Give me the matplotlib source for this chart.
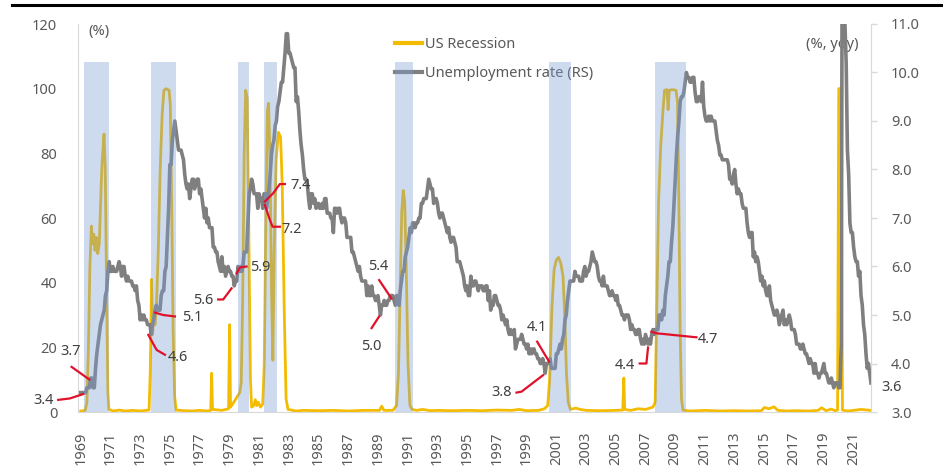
import numpy as np
import matplotlib
matplotlib.use("Agg")
import matplotlib.pyplot as plt
from matplotlib.lines import Line2D

plt.rcParams['font.family'] = ['Noto Sans', 'DejaVu Sans']

# ---------------- data ----------------
# US unemployment rate (%), monthly from Jan 1969
unrate_1969_1979 = [
    3.4, 3.4, 3.4, 3.4, 3.4, 3.5, 3.5, 3.5, 3.7, 3.7, 3.5, 3.5,
    3.9, 4.2, 4.4, 4.6, 4.8, 4.9, 5.0, 5.1, 5.4, 5.5, 5.9, 6.1,
    5.9, 5.9, 6.0, 5.9, 5.9, 5.9, 6.0, 6.1, 6.0, 5.8, 6.0, 6.0,
    5.8, 5.7, 5.8, 5.7, 5.7, 5.7, 5.6, 5.6, 5.5, 5.6, 5.3, 5.2,
    4.9, 5.0, 4.9, 5.0, 4.9, 4.9, 4.8, 4.8, 4.8, 4.6, 4.8, 4.9,
    5.1, 5.2, 5.1, 5.1, 5.1, 5.4, 5.5, 5.5, 5.9, 6.0, 6.6, 7.2,
    8.1, 8.1, 8.6, 8.8, 9.0, 8.8, 8.6, 8.4, 8.4, 8.4, 8.3, 8.2,
    7.9, 7.7, 7.6, 7.7, 7.4, 7.6, 7.8, 7.8, 7.6, 7.7, 7.8, 7.8,
    7.5, 7.6, 7.4, 7.2, 7.0, 7.2, 6.9, 7.0, 6.8, 6.8, 6.8, 6.4,
    6.4, 6.3, 6.3, 6.1, 6.0, 5.9, 6.2, 5.9, 6.0, 5.8, 5.9, 6.0,
    5.9, 5.9, 5.8, 5.8, 5.6, 5.7, 5.7, 6.0, 5.9, 6.0, 5.9, 6.0,
]
unrate_1980_1989 = [
    6.3, 6.3, 6.3, 6.9, 7.5, 7.6, 7.8, 7.7, 7.5, 7.5, 7.5, 7.2,
    7.5, 7.4, 7.4, 7.2, 7.5, 7.5, 7.2, 7.4, 7.6, 7.9, 8.3, 8.5,
    8.6, 8.9, 9.0, 9.3, 9.4, 9.6, 9.8, 9.8, 10.1, 10.4, 10.8, 10.8,
    10.4, 10.4, 10.3, 10.2, 10.1, 10.1, 9.4, 9.5, 9.2, 8.8, 8.5, 8.3,
    8.0, 7.8, 7.8, 7.7, 7.4, 7.2, 7.5, 7.5, 7.3, 7.4, 7.2, 7.3,
    7.3, 7.2, 7.2, 7.3, 7.2, 7.4, 7.4, 7.1, 7.1, 7.1, 7.0, 7.0,
    6.7, 7.2, 7.2, 7.1, 7.2, 7.2, 7.0, 6.9, 7.0, 7.0, 6.9, 6.6,
    6.6, 6.6, 6.6, 6.3, 6.3, 6.2, 6.1, 6.0, 5.9, 6.0, 5.8, 5.7,
    5.7, 5.7, 5.7, 5.4, 5.6, 5.4, 5.4, 5.6, 5.4, 5.4, 5.3, 5.3,
    5.4, 5.2, 5.0, 5.2, 5.2, 5.3, 5.2, 5.2, 5.3, 5.3, 5.4, 5.4,
]
unrate_1990_1999 = [
    5.4, 5.3, 5.2, 5.4, 5.4, 5.2, 5.5, 5.7, 5.9, 5.9, 6.2, 6.3,
    6.4, 6.6, 6.8, 6.7, 6.9, 6.9, 6.8, 6.9, 6.9, 7.0, 7.0, 7.3,
    7.3, 7.4, 7.4, 7.4, 7.6, 7.8, 7.7, 7.6, 7.6, 7.3, 7.4, 7.4,
    7.3, 7.1, 7.0, 7.1, 7.1, 7.0, 6.9, 6.8, 6.7, 6.8, 6.6, 6.5,
    6.6, 6.6, 6.5, 6.4, 6.1, 6.1, 6.1, 6.0, 5.9, 5.8, 5.6, 5.5,
    5.6, 5.4, 5.4, 5.8, 5.6, 5.6, 5.7, 5.7, 5.6, 5.5, 5.6, 5.6,
    5.6, 5.5, 5.5, 5.6, 5.6, 5.3, 5.5, 5.1, 5.2, 5.2, 5.4, 5.4,
    5.3, 5.2, 5.2, 5.1, 4.9, 5.0, 4.9, 4.8, 4.9, 4.7, 4.6, 4.7,
    4.6, 4.6, 4.7, 4.3, 4.4, 4.5, 4.5, 4.5, 4.6, 4.5, 4.4, 4.4,
    4.3, 4.4, 4.2, 4.3, 4.2, 4.3, 4.3, 4.2, 4.2, 4.1, 4.1, 4.0,
]
unrate_2000_2009 = [
    4.0, 4.1, 4.0, 3.8, 4.0, 4.0, 4.0, 4.1, 3.9, 3.9, 3.9, 3.9,
    4.2, 4.2, 4.3, 4.4, 4.3, 4.5, 4.6, 4.9, 5.0, 5.3, 5.5, 5.7,
    5.7, 5.7, 5.7, 5.9, 5.8, 5.8, 5.8, 5.7, 5.7, 5.7, 5.9, 6.0,
    5.8, 5.9, 5.9, 6.0, 6.1, 6.3, 6.2, 6.1, 6.1, 6.0, 5.8, 5.7,
    5.7, 5.6, 5.8, 5.6, 5.6, 5.6, 5.5, 5.4, 5.4, 5.5, 5.4, 5.4,
    5.3, 5.4, 5.2, 5.2, 5.1, 5.0, 5.0, 4.9, 5.0, 5.0, 5.0, 4.9,
    4.7, 4.8, 4.7, 4.7, 4.6, 4.6, 4.7, 4.7, 4.5, 4.4, 4.5, 4.4,
    4.6, 4.5, 4.4, 4.5, 4.4, 4.6, 4.7, 4.6, 4.7, 4.7, 4.7, 5.0,
    5.0, 4.9, 5.1, 5.0, 5.4, 5.6, 5.8, 6.1, 6.1, 6.5, 6.8, 7.3,
    7.8, 8.3, 8.7, 9.0, 9.4, 9.5, 9.5, 9.6, 9.8, 10.0, 9.9, 9.9,
]
unrate_2010_2022 = [
    9.8, 9.8, 9.9, 9.9, 9.6, 9.4, 9.4, 9.5, 9.5, 9.4, 9.8, 9.3,
    9.1, 9.0, 9.0, 9.1, 9.0, 9.1, 9.0, 9.0, 9.0, 8.8, 8.6, 8.5,
    8.3, 8.3, 8.2, 8.2, 8.2, 8.2, 8.2, 8.1, 7.8, 7.8, 7.7, 7.9,
    8.0, 7.7, 7.5, 7.6, 7.5, 7.5, 7.3, 7.2, 7.2, 7.2, 6.9, 6.7,
    6.6, 6.7, 6.7, 6.2, 6.3, 6.1, 6.2, 6.1, 5.9, 5.7, 5.8, 5.6,
    5.7, 5.5, 5.4, 5.4, 5.6, 5.3, 5.2, 5.1, 5.0, 5.0, 5.1, 5.0,
    4.8, 4.9, 5.0, 5.1, 4.8, 4.9, 4.8, 4.9, 5.0, 4.9, 4.7, 4.7,
    4.7, 4.6, 4.4, 4.4, 4.4, 4.3, 4.3, 4.4, 4.3, 4.2, 4.2, 4.1,
    4.0, 4.1, 4.0, 4.0, 3.8, 4.0, 3.8, 3.8, 3.7, 3.8, 3.8, 3.9,
    4.0, 3.8, 3.8, 3.7, 3.6, 3.6, 3.7, 3.6, 3.5, 3.6, 3.6, 3.6,
    3.5, 3.5, 4.4, 14.7, 13.2, 11.0, 10.2, 8.4, 7.9, 6.9, 6.7, 6.7,
    6.4, 6.2, 6.1, 6.1, 5.8, 5.9, 5.4, 5.2, 4.8, 4.6, 4.2, 3.9,
    4.0, 3.8, 3.6,
]
unrate_start_year = 1969

# US recession probability (%)
rec_year = [
    1969.0, 1969.3, 1969.42, 1969.52, 1969.62, 1969.72, 1969.8, 1969.88, 1969.96,
    1970.05, 1970.15, 1970.25, 1970.38, 1970.45, 1970.57, 1970.65, 1970.75, 1970.83, 1970.9,
    1971.2, 1971.6, 1972.0, 1972.5, 1973.0,
    1973.6, 1973.68, 1973.77, 1973.84, 1973.92, 1974.0, 1974.1, 1974.22, 1974.35, 1974.48,
    1974.6, 1974.75, 1974.95, 1975.03, 1975.12, 1975.22, 1975.32, 1975.42,
    1976.0, 1976.5, 1977.0, 1977.5, 1977.75, 1977.81, 1977.87, 1978.5, 1978.95, 1979.02, 1979.08,
    1979.3, 1979.5, 1979.7, 1979.8, 1979.9, 1980.0, 1980.1, 1980.2, 1980.3, 1980.42, 1980.5,
    1980.65, 1980.75, 1980.85, 1980.95, 1981.1, 1981.25, 1981.35, 1981.46, 1981.56, 1981.64,
    1981.73, 1981.85, 1981.93, 1982.02, 1982.15, 1982.3, 1982.45, 1982.56, 1982.7, 1982.82, 1982.95,
    1983.5, 1984.0, 1985.0, 1986.0, 1987.0, 1988.0, 1989.1, 1989.25, 1989.4, 1990.0,
    1990.25, 1990.38, 1990.5, 1990.6, 1990.7, 1990.8, 1990.9, 1991.02, 1991.15, 1991.3,
    1991.6, 1992.0, 1992.5, 1993.0, 1994.0, 1995.0, 1996.0, 1997.0, 1998.0, 1998.5, 1999.0,
    1999.8, 2000.2, 2000.42, 2000.55, 2000.7, 2000.85, 2001.0, 2001.15, 2001.3, 2001.45,
    2001.58, 2001.68, 2001.8, 2001.95, 2002.3, 2002.6, 2003.0, 2004.0, 2005.0,
    2005.47, 2005.54, 2005.6, 2006.0, 2006.5, 2007.0, 2007.5, 2007.65, 2007.75, 2007.88,
    2008.02, 2008.17, 2008.28, 2008.45, 2008.52, 2008.6, 2008.8, 2009.05, 2009.15, 2009.23,
    2009.33, 2009.42, 2009.52, 2010.0, 2011.0, 2012.0, 2013.0, 2014.0, 2014.8, 2015.0,
    2015.3, 2015.65, 2015.9, 2016.5, 2017.0, 2018.0, 2018.6, 2018.85, 2019.15, 2019.5,
    2019.75, 2019.92, 2020.0, 2020.17, 2020.25, 2020.6, 2021.0, 2021.5, 2022.17,
]
rec_prob = [
    0.3, 0.5, 3, 20, 45, 57.5, 52, 55, 50,
    54, 49, 52, 70, 78, 86, 76, 35, 6, 0.8,
    0.3, 0.6, 0.3, 0.5, 0.3,
    0.6, 12, 41, 24, 30, 27, 33, 50, 75, 92,
    99.5, 100, 99.5, 95, 65, 25, 5, 0.6,
    0.4, 0.3, 0.5, 0.3, 0.5, 12, 0.8, 0.5, 1, 27, 1.5,
    3, 4.5, 6, 9, 35, 80, 99.5, 97, 60, 10, 1.5,
    2, 3.8, 2, 3, 1.5, 2.5, 15, 60, 93, 95.5,
    80, 35, 16, 50, 78, 86.5, 85, 70, 30, 4, 0.8,
    0.3, 0.5, 0.4, 0.5, 0.3, 0.5, 0.5, 1.8, 0.5, 0.5,
    2, 12, 40, 62, 68.5, 65, 45, 15, 2, 0.8,
    0.5, 0.8, 0.4, 0.5, 0.4, 0.5, 0.4, 0.6, 0.5, 0.8, 0.4,
    0.5, 1, 2, 10, 32, 44, 47, 47.8, 46, 42,
    28, 12, 3, 0.8, 1.2, 0.8, 0.5, 0.4, 0.5,
    0.6, 10.5, 0.8, 0.5, 1, 0.8, 1.5, 3, 30, 65,
    82, 93, 99.5, 99.7, 93.5, 99.5, 99.7, 99.5, 96, 70,
    25, 4, 0.6, 0.3, 0.5, 0.3, 0.4, 0.3, 0.4, 1.4,
    1.0, 1.6, 0.5, 0.3, 0.4, 0.3, 0.5, 1.3, 0.4, 0.9,
    0.4, 0.6, 100, 100, 0.6, 0.3, 0.5, 0.8, 0.5,
]

# shaded recession periods (decimal years)
band_start = [1969.22, 1973.71, 1979.60, 1981.36, 1990.18, 2000.51, 2007.62]
band_end = [1970.92, 1975.41, 1980.32, 1982.18, 1991.37, 2002.02, 2009.72]

left_ticks = [0, 20, 40, 60, 80, 100, 120]
right_ticks = [3.0, 4.0, 5.0, 6.0, 7.0, 8.0, 9.0, 10.0, 11.0]
year_ticks = list(range(1969, 2022, 2))

series_labels = ["US Recession", "Unemployment rate (RS)"]

# ---------------- annotation layout (label, text pos, ha, connector) -----------
annotations = [
    ("3.4", (1967.16, 3.23), "right", [(1967.49, 3.25), (1968.28, 3.28), (1969.17, 3.37)]),
    ("3.7", (1968.35, 4.24), "center", [(1968.39, 3.93), (1969.58, 3.67)]),
    ("4.6", (1974.87, 4.13), "left", [(1973.55, 4.59), (1974.11, 4.28), (1974.67, 4.18)]),
    ("5.1", (1975.81, 4.95), "left", [(1974.0, 5.05), (1974.55, 5.0), (1975.34, 4.97)]),
    ("5.6", (1977.90, 5.29), "right", [(1978.25, 5.32), (1978.59, 5.32), (1979.15, 5.55)]),
    ("5.9", (1980.39, 5.97), "left", [(1979.49, 5.86), (1979.71, 5.98), (1980.16, 6.0)]),
    ("7.4", (1983.08, 7.66), "left", [(1981.39, 7.34), (1981.95, 7.51), (1982.40, 7.70), (1982.74, 7.70)]),
    ("7.2", (1982.52, 6.77), "left", [(1981.39, 7.27), (1981.73, 6.96), (1981.91, 6.82), (1982.40, 6.82)]),
    ("5.0", (1988.52, 4.36), "center", [(1989.08, 4.97), (1988.57, 4.73)]),
    ("5.4", (1989.0, 6.01), "center", [(1989.08, 5.72), (1989.91, 5.34)]),
    ("4.1", (1999.69, 4.74), "center", [(1999.71, 4.45), (2000.51, 4.04)]),
    ("3.8", (1997.98, 3.40), "right", [(1998.32, 3.40), (1998.66, 3.42), (2000.11, 3.76)]),
    ("4.4", (2006.28, 3.95), "right", [(2006.61, 4.0), (2007.06, 4.0), (2007.17, 4.33)]),
    ("4.7", (2010.51, 4.505), "left", [(2007.40, 4.656), (2007.74, 4.623), (2010.43, 4.54)]),
    ("3.6", (2022.87, 3.505), "left", []),
]

# ---------------- styles ----------------
YELLOW = "#F4BC00"
GRAY = "#7F7F7F"
RED = "#E0112B"
BAND = "#7A9FD6"
AXIS = "#D9D9D9"
TXT = "#595959"
ANN = "#404040"
FS = 10.5

W, H = 943, 473
fig = plt.figure(figsize=(W / 100, H / 100), dpi=100)
fig.patch.set_facecolor("white")
ax = fig.add_axes([78 / W, 1 - 412 / H, (871 - 78) / W, (412 - 24) / H])
ax2 = ax.twinx()

unrate = np.array(unrate_1969_1979 + unrate_1980_1989 + unrate_1990_1999
                  + unrate_2000_2009 + unrate_2010_2022)
un_years = unrate_start_year + np.arange(len(unrate)) / 12.0

ax.plot(rec_year, rec_prob, color=YELLOW, lw=2.0, solid_joinstyle="round", zorder=2)
ax2.plot(un_years, unrate, color=GRAY, lw=2.6, solid_joinstyle="round", zorder=2)

ax.set_xlim(1968.82, 2022.17)
ax.set_ylim(0, 120)
ax2.set_ylim(3.0, 11.0)

band_top = 108.4 / 120
for s, e in zip(band_start, band_end):
    ax2.axvspan(s, e, ymin=0, ymax=band_top, color=BAND, alpha=0.37, lw=0, zorder=3)

# ticks
ax.set_yticks(left_ticks)
ax.set_yticklabels([str(v) for v in left_ticks])
ax.tick_params(axis="y", length=0, pad=15, labelsize=FS, labelcolor=TXT)
ax.set_xticks(year_ticks)
ax.set_xticklabels([str(y) for y in year_ticks], rotation=90)
ax.tick_params(axis="x", length=0, pad=14, labelsize=FS, labelcolor=TXT)

ax2.set_yticks(right_ticks)
ax2.set_yticklabels([f"{v:.1f}" for v in right_ticks])
ax2.tick_params(axis="y", length=4.5, width=1, color=AXIS, pad=10, labelsize=FS, labelcolor=TXT)

for a in (ax, ax2):
    a.spines["top"].set_visible(False)
ax.spines["right"].set_visible(False)
ax.spines["left"].set_color(AXIS)
ax.spines["bottom"].set_color(AXIS)
ax2.spines["left"].set_visible(False)
ax2.spines["bottom"].set_visible(False)
ax2.spines["right"].set_color(AXIS)

# unit labels
ax2.text((88 - 78) / (871 - 78), (412 - 31) / 388, "(%)", transform=ax2.transAxes,
         ha="left", va="center", fontsize=FS, color=TXT, zorder=1)
ax2.text((858 - 78) / (871 - 78), (412 - 44) / 388, "(%, yoy)", transform=ax2.transAxes,
         ha="right", va="center", fontsize=FS, color=TXT, zorder=1)

# legend (sits beneath the shaded bands)
handles = [Line2D([], [], color=YELLOW, lw=3), Line2D([], [], color=GRAY, lw=3)]
leg = ax2.legend(handles, series_labels, loc="upper left",
                 bbox_to_anchor=(395 / W, 1 - 37 / H), bbox_transform=fig.transFigure,
                 frameon=False, fontsize=FS, handlelength=1.85, handletextpad=0.2,
                 labelspacing=0.98, borderpad=0, borderaxespad=0)
for t in leg.get_texts():
    t.set_color(TXT)
leg.set_zorder(1)

# annotations
for label, (tx, ty), ha, path in annotations:
    if path:
        xs = [p[0] for p in path]
        ys = [p[1] for p in path]
        ax2.plot(xs, ys, color=RED, lw=1.6, zorder=5, clip_on=False)
    ax2.text(tx, ty, label, ha=ha, va="center", fontsize=FS, color=ANN,
             zorder=5, clip_on=False)

# header rule
fig.add_artist(Line2D([12 / W, 1.0], [1 - 5 / H, 1 - 5 / H], color="black", lw=2.2,
                      transform=fig.transFigure))

fig.savefig("out.png", dpi=100, facecolor="white")
